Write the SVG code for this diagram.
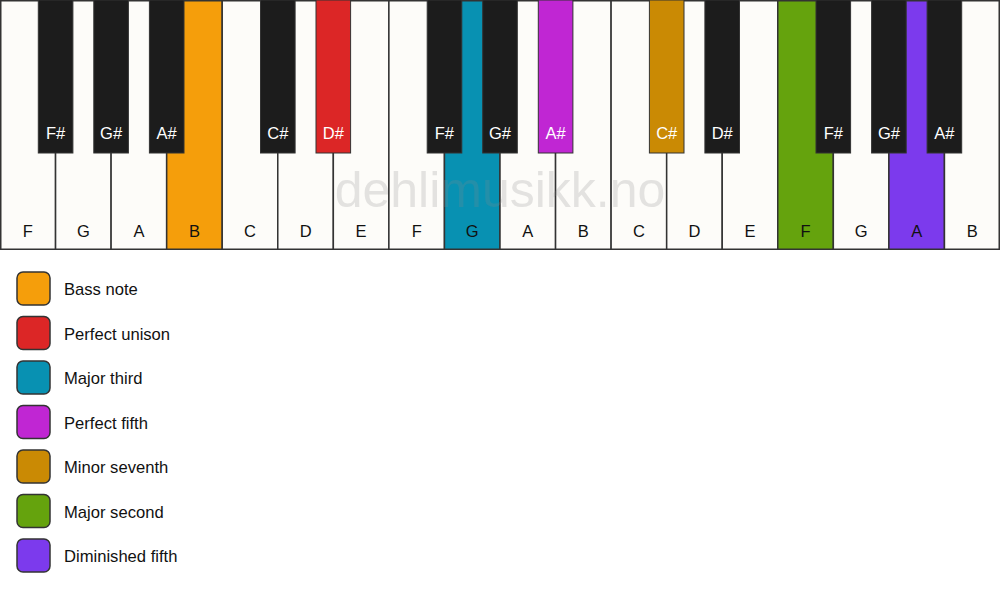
<svg xmlns="http://www.w3.org/2000/svg" width="1000" height="594" viewBox="0 0 1000 594">
<style>
.w{fill:#fdfcf9;stroke:#333;stroke-width:1.5}
.b{fill:#1c1c1c;stroke:#333;stroke-width:1}
.lw{font-family:"Liberation Sans",Arial,sans-serif;font-size:16.5px;fill:#111;text-anchor:middle}
.lb{font-family:"Liberation Sans",Arial,sans-serif;font-size:16.5px;fill:#fff;text-anchor:middle}
.sq{stroke:#333;stroke-width:1.5}
.lg{font-family:"Liberation Sans",Arial,sans-serif;font-size:16.6px;fill:#111}
.wm{font-family:"Liberation Sans",Arial,sans-serif;font-size:50px;fill:#888;fill-opacity:0.22;text-anchor:middle}
</style>
<rect width="1000" height="594" fill="#fff"/>
<g id="white-keys">
<g id="wk-F1"><rect class="w" x="0.75" y="0.75" width="54.8" height="248.5"/><text class="lw" x="27.8" y="237">F</text></g>
<g id="wk-G1"><rect class="w" x="55.56" y="0.75" width="55.56" height="248.5"/><text class="lw" x="83.3" y="237">G</text></g>
<g id="wk-A1"><rect class="w" x="111.11" y="0.75" width="55.56" height="248.5"/><text class="lw" x="138.9" y="237">A</text></g>
<g id="wk-B1"><rect class="w" x="166.67" y="0.75" width="55.56" height="248.5" style="fill:#f59e0b"/><text class="lw" x="194.4" y="237">B</text></g>
<g id="wk-C1"><rect class="w" x="222.22" y="0.75" width="55.56" height="248.5"/><text class="lw" x="250" y="237">C</text></g>
<g id="wk-D1"><rect class="w" x="277.78" y="0.75" width="55.56" height="248.5"/><text class="lw" x="305.6" y="237">D</text></g>
<g id="wk-E1"><rect class="w" x="333.33" y="0.75" width="55.56" height="248.5"/><text class="lw" x="361.1" y="237">E</text></g>
<g id="wk-F2"><rect class="w" x="388.89" y="0.75" width="55.56" height="248.5"/><text class="lw" x="416.7" y="237">F</text></g>
<g id="wk-G2"><rect class="w" x="444.44" y="0.75" width="55.56" height="248.5" style="fill:#0891b2"/><text class="lw" x="472.2" y="237">G</text></g>
<g id="wk-A2"><rect class="w" x="500" y="0.75" width="55.56" height="248.5"/><text class="lw" x="527.8" y="237">A</text></g>
<g id="wk-B2"><rect class="w" x="555.56" y="0.75" width="55.56" height="248.5"/><text class="lw" x="583.3" y="237">B</text></g>
<g id="wk-C2"><rect class="w" x="611.11" y="0.75" width="55.56" height="248.5"/><text class="lw" x="638.9" y="237">C</text></g>
<g id="wk-D2"><rect class="w" x="666.67" y="0.75" width="55.56" height="248.5"/><text class="lw" x="694.4" y="237">D</text></g>
<g id="wk-E2"><rect class="w" x="722.22" y="0.75" width="55.56" height="248.5"/><text class="lw" x="750" y="237">E</text></g>
<g id="wk-F3"><rect class="w" x="777.78" y="0.75" width="55.56" height="248.5" style="fill:#65a30d"/><text class="lw" x="805.6" y="237">F</text></g>
<g id="wk-G3"><rect class="w" x="833.33" y="0.75" width="55.56" height="248.5"/><text class="lw" x="861.1" y="237">G</text></g>
<g id="wk-A3"><rect class="w" x="888.89" y="0.75" width="55.56" height="248.5" style="fill:#7c3aed"/><text class="lw" x="916.7" y="237">A</text></g>
<g id="wk-B3"><rect class="w" x="944.44" y="0.75" width="54.8" height="248.5"/><text class="lw" x="972.2" y="237">B</text></g>
</g>
<text id="watermark" class="wm" x="500" y="207">dehlimusikk.no</text>
<g id="black-keys">
<g id="bk-Fs1"><rect class="b" x="38.3" y="0" width="34.6" height="153"/><text class="lb" x="55.6" y="139">F#</text></g>
<g id="bk-Gs1"><rect class="b" x="93.8" y="0" width="34.6" height="153"/><text class="lb" x="111.1" y="139">G#</text></g>
<g id="bk-As1"><rect class="b" x="149.4" y="0" width="34.6" height="153"/><text class="lb" x="166.7" y="139">A#</text></g>
<g id="bk-Cs1"><rect class="b" x="260.5" y="0" width="34.6" height="153"/><text class="lb" x="277.8" y="139">C#</text></g>
<g id="bk-Ds1"><rect class="b" x="316" y="0" width="34.6" height="153" style="fill:#dc2626"/><text class="lb" x="333.3" y="139">D#</text></g>
<g id="bk-Fs2"><rect class="b" x="427.2" y="0" width="34.6" height="153"/><text class="lb" x="444.4" y="139">F#</text></g>
<g id="bk-Gs2"><rect class="b" x="482.7" y="0" width="34.6" height="153"/><text class="lb" x="500" y="139">G#</text></g>
<g id="bk-As2"><rect class="b" x="538.3" y="0" width="34.6" height="153" style="fill:#c026d3"/><text class="lb" x="555.6" y="139">A#</text></g>
<g id="bk-Cs2"><rect class="b" x="649.4" y="0" width="34.6" height="153" style="fill:#ca8a04"/><text class="lb" x="666.7" y="139">C#</text></g>
<g id="bk-Ds2"><rect class="b" x="704.9" y="0" width="34.6" height="153"/><text class="lb" x="722.2" y="139">D#</text></g>
<g id="bk-Fs3"><rect class="b" x="816" y="0" width="34.6" height="153"/><text class="lb" x="833.3" y="139">F#</text></g>
<g id="bk-Gs3"><rect class="b" x="871.6" y="0" width="34.6" height="153"/><text class="lb" x="888.9" y="139">G#</text></g>
<g id="bk-As3"><rect class="b" x="927.1" y="0" width="34.6" height="153"/><text class="lb" x="944.4" y="139">A#</text></g>
</g>
<g id="legend">
<g id="lg-bass"><rect class="sq" x="17" y="272" width="33" height="33" rx="6" fill="#f59e0b"/><text class="lg" x="64" y="295">Bass note</text></g>
<g id="lg-unison"><rect class="sq" x="17" y="316.5" width="33" height="33" rx="6" fill="#dc2626"/><text class="lg" x="64" y="339.5">Perfect unison</text></g>
<g id="lg-third"><rect class="sq" x="17" y="361" width="33" height="33" rx="6" fill="#0891b2"/><text class="lg" x="64" y="384">Major third</text></g>
<g id="lg-fifth"><rect class="sq" x="17" y="405.5" width="33" height="33" rx="6" fill="#c026d3"/><text class="lg" x="64" y="428.5">Perfect fifth</text></g>
<g id="lg-seventh"><rect class="sq" x="17" y="450" width="33" height="33" rx="6" fill="#ca8a04"/><text class="lg" x="64" y="473">Minor seventh</text></g>
<g id="lg-second"><rect class="sq" x="17" y="494.5" width="33" height="33" rx="6" fill="#65a30d"/><text class="lg" x="64" y="517.5">Major second</text></g>
<g id="lg-dim"><rect class="sq" x="17" y="539" width="33" height="33" rx="6" fill="#7c3aed"/><text class="lg" x="64" y="562">Diminished fifth</text></g>
</g>
</svg>
